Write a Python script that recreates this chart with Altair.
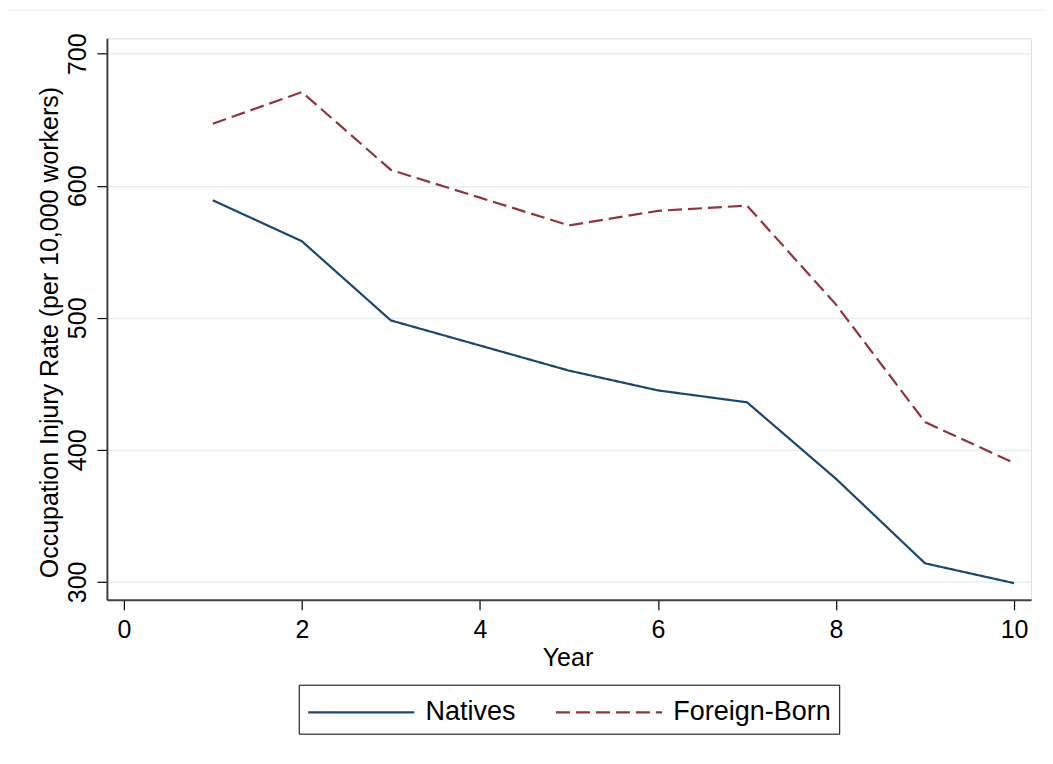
import altair as alt
import pandas as pd

years = [1, 2, 3, 4, 5, 6, 7, 8, 9, 10]
natives = [589, 558, 498, 479, 460, 445, 436, 378, 314, 299]
foreign_born = [647, 671, 612, 591, 570, 581, 585, 510, 421, 390]
series_names = ["Natives", "Foreign-Born"]
x_ticks = [0, 2, 4, 6, 8, 10]
y_ticks = [300, 400, 500, 600, 700]

rows = []
for i, yr in enumerate(years):
    rows.append({"Year": yr, "Rate": natives[i], "Series": series_names[0]})
for i, yr in enumerate(years):
    rows.append({"Year": yr, "Rate": foreign_born[i], "Series": series_names[1]})
df = pd.DataFrame(rows)

FONT = "Liberation Sans"
FS = 25
W, H = 925, 562

legend = alt.Legend(title=None, orient="none", legendX=192, legendY=647,
                    direction="horizontal", columns=2,
                    symbolType="M-1,0H4.9", symbolSize=1296,
                    symbolStrokeWidth=2.2, labelFontSize=27, labelFont=FONT,
                    labelColor="black", labelOffset=80, columnPadding=35,
                    padding=8, strokeColor="black", fillColor="white",
                    labelLimit=400)

lines = alt.Chart(df).mark_line(strokeWidth=2.2).encode(
    x=alt.X("Year:Q",
            scale=alt.Scale(domain=[-0.19, 10.19], nice=False, zero=False),
            axis=alt.Axis(values=x_ticks, title="Year", grid=False,
                          labelFontSize=FS, titleFontSize=FS, labelFont=FONT, titleFont=FONT,
                          labelColor="black", titleColor="black", titleFontWeight="normal",
                          domainColor="#404040", domainWidth=2, tickColor="black",
                          tickSize=10, tickWidth=1.2, labelPadding=8,
                          titleX=461, titleY=66, titleBaseline="alphabetic",
                          titleAlign="center", labelFlush=False)),
    y=alt.Y("Rate:Q",
            scale=alt.Scale(domain=[286.4, 711.7], nice=False, zero=False),
            axis=alt.Axis(values=y_ticks, title="Occupation Injury Rate (per 10,000 workers)",
                          grid=True, gridColor="#e6eef1", gridWidth=1.5,
                          labelFontSize=FS, titleFontSize=FS, labelFont=FONT, titleFont=FONT,
                          labelColor="black", titleColor="black", titleFontWeight="normal",
                          domainColor="#404040", domainWidth=2, tickColor="black",
                          tickSize=10, tickWidth=1.2, labelPadding=6,
                          labelAngle=270, labelAlign="center", labelBaseline="bottom",
                          titleAngle=270, titleAlign="center", titleBaseline="middle",
                          titleX=-57, titleY=294, labelFlush=False)),
    color=alt.Color("Series:N",
                    scale=alt.Scale(domain=series_names, range=["#1a476f", "#90353b"]),
                    legend=legend),
    strokeDash=alt.StrokeDash("Series:N",
                              scale=alt.Scale(domain=series_names, range=[[1, 0], [14, 6]]),
                              legend=legend),
    order="Year:Q",
)

top_rule = alt.Chart(pd.DataFrame({"a": [0]})).mark_rule(color="#edf2f4", strokeWidth=1.5).encode(
    x=alt.value(-104), x2=alt.value(1026), y=alt.value(-28)
)

chart = alt.layer(top_rule, lines).properties(
    width=W, height=H,
    autosize=alt.AutoSizeParams(type="none"),
    padding={"left": 99, "top": 30, "right": 14, "bottom": 150},
).configure_view(stroke=None).configure(background="white")

chart.save("out.html", embed_options={"renderer": "svg", "actions": False})
